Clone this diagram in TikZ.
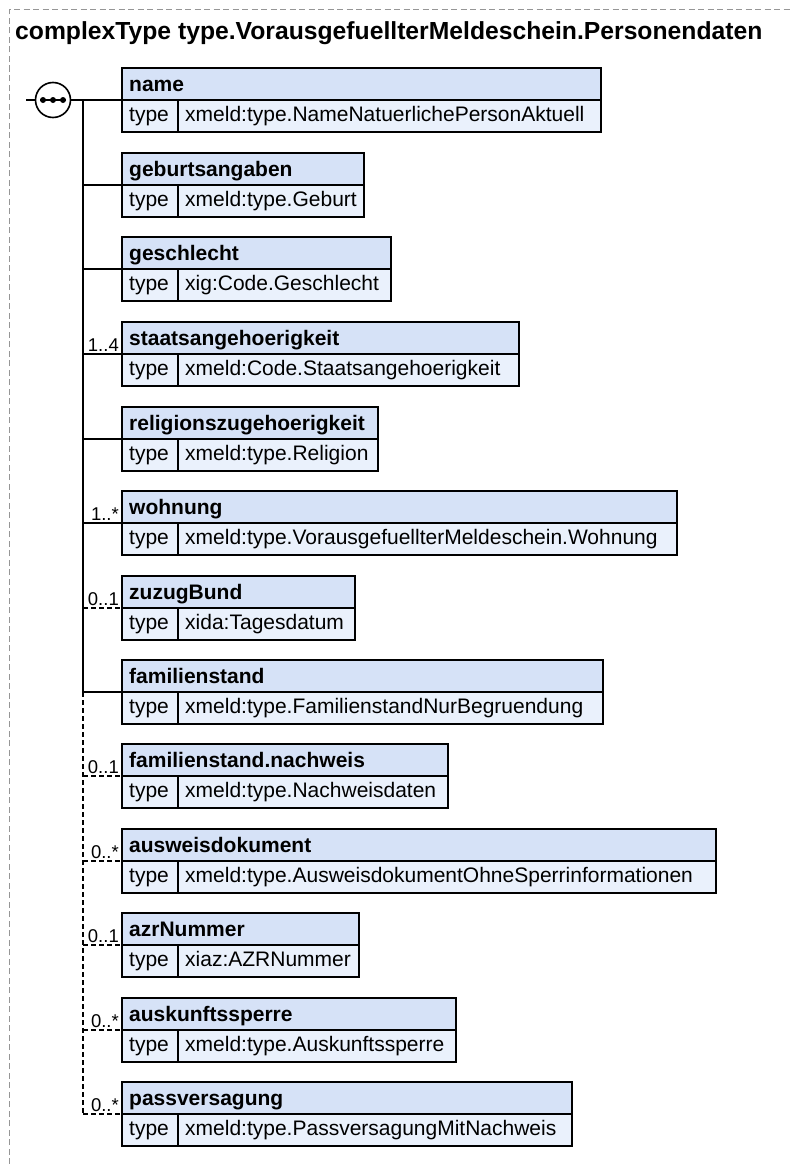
\documentclass[tikz,border=0pt]{standalone}
\usepackage{fontspec}
\setmainfont{Liberation Sans}
\definecolor{hdrfill}{RGB}{214,226,247}
\definecolor{rowfill}{RGB}{234,241,252}
\definecolor{framegray}{RGB}{150,150,150}
\tikzset{
  boxline/.style={draw=black,line width=1.8pt},
  divline/.style={draw=black,line width=1.4pt},
  elembox/.style={rectangle,draw=black,line width=1.8pt,fill=rowfill,inner sep=0pt,outer sep=0pt,minimum height=64pt,anchor=north west},
  lbl/.style={anchor=base west,inner sep=0pt,font=\fontsize{21}{24}\selectfont\bfseries},
  typ/.style={anchor=base west,inner sep=0pt,font=\fontsize{21}{24}\selectfont},
  mult/.style={anchor=base east,inner sep=0pt,font=\fontsize{18.5}{21}\selectfont},
  conn/.style={draw=black,line width=1.8pt},
  optconn/.style={draw=black,line width=1.8pt,dash pattern=on 4.5pt off 3.5pt},
  frame/.style={draw=framegray,line width=1pt,dash pattern=on 6pt off 3.5pt},
}
\newcommand{\xsdelem}[5]{%
  \node[elembox,minimum width=#3-122] (#1) at (122,#2) {};
  \fill[hdrfill] ([xshift=0.9pt,yshift=-0.9pt]#1.north west) rectangle ([xshift=-0.9pt,yshift=-32pt]#1.north east);
  \draw[boxline] (#1.north west) rectangle (#1.south east);
  \draw[boxline] (#1.west) -- (#1.east);
  \draw[divline] ([xshift=56pt]#1.west) -- ([xshift=56pt]#1.south west);
  \node[lbl] (#1-label) at ([xshift=7pt,yshift=9pt]#1.west) {#4};
  \node[typ] (#1-typekey) at ([xshift=7pt,yshift=-21pt]#1.west) {type};
  \node[typ] (#1-typeval) at ([xshift=63pt,yshift=-21pt]#1.west) {#5};
}
\begin{document}
\begin{tikzpicture}[x=1pt,y=-1pt]
\useasboundingbox (0,0) rectangle (790,1164);
% outer frame (top and left only)
\draw[frame] (9,1164) -- (9,10) -- (790,10);
% title
\node[anchor=base west,inner sep=0pt,font=\fontsize{24.7}{29}\selectfont\bfseries] (title) at (15,40) {complexType type.VorausgefuellterMeldeschein.Personendaten};
% elements
\xsdelem{name}{68}{601}{name}{xmeld:type.NameNatuerlichePersonAktuell}
\xsdelem{geb}{153}{364}{geburtsangaben}{xmeld:type.Geburt}
\xsdelem{ges}{237}{391}{geschlecht}{xig:Code.Geschlecht}
\xsdelem{staat}{322}{519}{staatsangehoerigkeit}{xmeld:Code.Staatsangehoerigkeit}
\xsdelem{rel}{407}{378}{religionszugehoerigkeit}{xmeld:type.Religion}
\xsdelem{wohn}{491}{677}{wohnung}{xmeld:type.VorausgefuellterMeldeschein.Wohnung}
\xsdelem{zuzug}{576}{355}{zuzugBund}{xida:Tagesdatum}
\xsdelem{fam}{660}{603}{familienstand}{xmeld:type.FamilienstandNurBegruendung}
\xsdelem{famn}{744}{448}{familienstand.nachweis}{xmeld:type.Nachweisdaten}
\xsdelem{ausw}{829}{716}{ausweisdokument}{xmeld:type.AusweisdokumentOhneSperrinformationen}
\xsdelem{azr}{913}{359}{azrNummer}{xiaz:AZRNummer}
\xsdelem{ausk}{998}{456}{auskunftssperre}{xmeld:type.Auskunftssperre}
\xsdelem{pass}{1082}{572}{passversagung}{xmeld:type.PassversagungMitNachweis}
% sequence compositor
\node[circle,draw=black,line width=1.6pt,fill=white,minimum size=35pt,inner sep=0pt] (seq) at (53,100) {};
\coordinate (seqin) at (26,100);
\coordinate (t0) at (83,100);
\draw[conn] (seqin) -- (seq.west);
\draw[conn] (seq.east) -- (name.west);
\draw[line width=1.5pt] (40,100) -- (66,100);
\foreach \dx in {43,53,63} \fill (\dx,100) circle (3pt);
% trunk
\draw[conn] (t0) -- (t0 |- fam.west);
\draw[optconn] (t0 |- fam.west) -- (t0 |- pass.west);
% connectors
\foreach \e in {geb,ges,staat,rel,wohn,fam} \draw[conn] (t0 |- \e.west) -- (\e.west);
\foreach \e in {zuzug,famn,ausw,azr,ausk,pass} \draw[optconn] (t0 |- \e.west) -- (\e.west);
% multiplicities
\node[mult] (m-staat) at ([xshift=-3pt,yshift=3pt]staat.west) {1..4};
\node[mult] (m-wohn) at ([xshift=-3pt,yshift=3pt]wohn.west) {1..*};
\node[mult] (m-zuzug) at ([xshift=-3pt,yshift=3pt]zuzug.west) {0..1};
\node[mult] (m-famn) at ([xshift=-3pt,yshift=3pt]famn.west) {0..1};
\node[mult] (m-ausw) at ([xshift=-3pt,yshift=3pt]ausw.west) {0..*};
\node[mult] (m-azr) at ([xshift=-3pt,yshift=3pt]azr.west) {0..1};
\node[mult] (m-ausk) at ([xshift=-3pt,yshift=3pt]ausk.west) {0..*};
\node[mult] (m-pass) at ([xshift=-3pt,yshift=3pt]pass.west) {0..*};
\end{tikzpicture}
\end{document}
